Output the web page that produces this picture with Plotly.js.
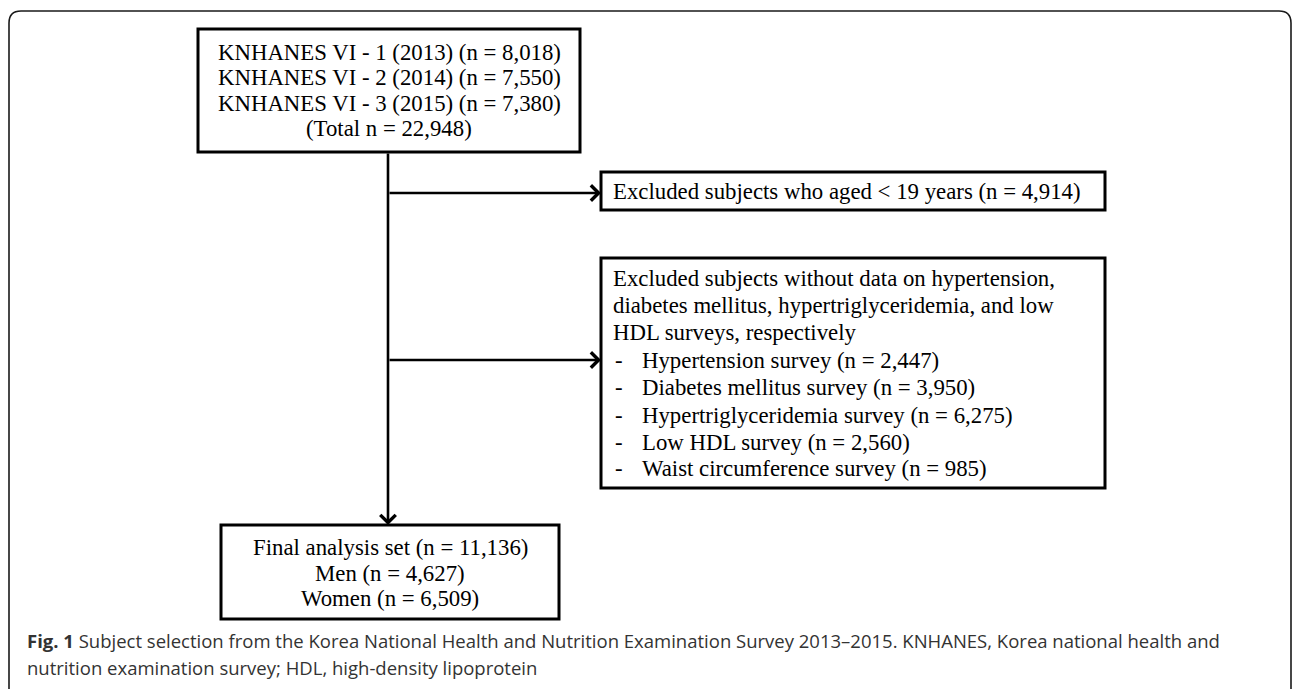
<!DOCTYPE html>
<html>
<head>
<meta charset="utf-8">
<script src="https://cdn.plot.ly/plotly-3.0.1.min.js"></script>
<style>html,body{margin:0;padding:0;background:#fff;}#chart{width:1292px;height:689px;}</style>
</head>
<body>
<div id="chart"></div>
<script>
// ---- data ----
const surveyWaves = ["VI - 1", "VI - 2", "VI - 3"];
const surveyYears = [2013, 2014, 2015];
const surveyCounts = [8018, 7550, 7380];
const totalCount = 22948;
const excludedAgeCount = 4914;
const excludedHeader = [
  "Excluded subjects without data on hypertension,",
  "diabetes mellitus, hypertriglyceridemia, and low",
  "HDL surveys, respectively"
];
const excludedSurveys = ["Hypertension survey", "Diabetes mellitus survey", "Hypertriglyceridemia survey", "Low HDL survey", "Waist circumference survey"];
const excludedCounts = [2447, 3950, 6275, 2560, 985];
const finalLabels = ["Final analysis set", "Men", "Women"];
const finalCounts = [11136, 4627, 6509];
const captionBold = "Fig. 1";
const captionLines = [
  " Subject selection from the Korea National Health and Nutrition Examination Survey 2013\u20132015. KNHANES, Korea national health and",
  "nutrition examination survey; HDL, high-density lipoprotein"
];

// ---- layout ----
const fmt = n => n.toLocaleString('en-US');
const serif = {family: "Liberation Serif, Times New Roman, serif", size: 22.8, color: "#000"};
const sans = {family: "Open Sans, sans-serif", size: 18.5, color: "#333"};
const W = 1292, H = 689;

const shapes = [];
const annotations = [];
function box(x0, y0, x1, y1) {
  shapes.push({type: 'rect', xref: 'x', yref: 'y', x0, y0, x1, y1, line: {color: '#000', width: 3}, fillcolor: 'rgba(0,0,0,0)'});
}
function txt(x, y, text, anchor, font) {
  annotations.push({x, y, xref: 'x', yref: 'y', text, showarrow: false, xanchor: anchor, yanchor: 'middle', font: font || serif});
}
function arrow(x0, y0, x1, y1) {
  annotations.push({x: x1, y: y1, ax: x0, ay: y0, xref: 'x', yref: 'y', axref: 'x', ayref: 'y', text: '', showarrow: true,
    arrowhead: 4, arrowsize: 1.15, arrowwidth: 2.6, arrowcolor: '#000', standoff: 0, startstandoff: 0});
}

// outer rounded frame
shapes.push({type: 'path', xref: 'x', yref: 'y', path: 'M 9,720 L 9,23 Q 9,11 21,11 L 1279,11 Q 1291,11 1291,23 L 1291,720', line: {color: '#1a1a1a', width: 1.6}});

// top box
box(198, 29, 580, 152);
const topLines = surveyWaves.map((w, i) => `KNHANES ${w} (${surveyYears[i]}) (n = ${fmt(surveyCounts[i])})`);
topLines.push(`(Total n = ${fmt(totalCount)})`);
const topY = [52, 77.5, 103, 128.5];
topLines.forEach((t, i) => txt(389, topY[i], t, 'center'));

// exclusion box 1
box(601, 172, 1105, 210);
txt(611, 191, `Excluded subjects who aged &lt; 19 years (n = ${fmt(excludedAgeCount)})`, 'left');

// exclusion box 2
box(601, 258, 1105, 488);
const y3 = [278, 305, 332, 360, 387, 415, 442, 468];
excludedHeader.forEach((t, i) => txt(611, y3[i], t, 'left'));
excludedSurveys.forEach((s, i) => {
  txt(613, y3[i + 3], '-', 'left');
  txt(640, y3[i + 3], `${s} (n = ${fmt(excludedCounts[i])})`, 'left');
});

// final box
box(221, 525, 559, 619);
const finY = [547, 573, 598];
finalLabels.forEach((l, i) => txt(390, finY[i], `${l} (n = ${fmt(finalCounts[i])})`, 'center'));

// arrows
arrow(388, 152, 388, 525);
arrow(388, 193, 601, 193);
arrow(388, 360, 601, 360);

// caption
txt(25, 640, `<b>${captionBold}</b>${captionLines[0]}`, 'left', sans);
txt(25, 667, captionLines[1], 'left', sans);

const layout = {
  width: W, height: H,
  margin: {l: 0, r: 0, t: 0, b: 0, pad: 0},
  paper_bgcolor: '#fff', plot_bgcolor: '#fff',
  xaxis: {range: [0, W], visible: false, fixedrange: true},
  yaxis: {range: [H, 0], visible: false, fixedrange: true},
  showlegend: false,
  shapes, annotations
};
Plotly.newPlot('chart', [], layout, {staticPlot: true, displayModeBar: false});
</script>
</body>
</html>
